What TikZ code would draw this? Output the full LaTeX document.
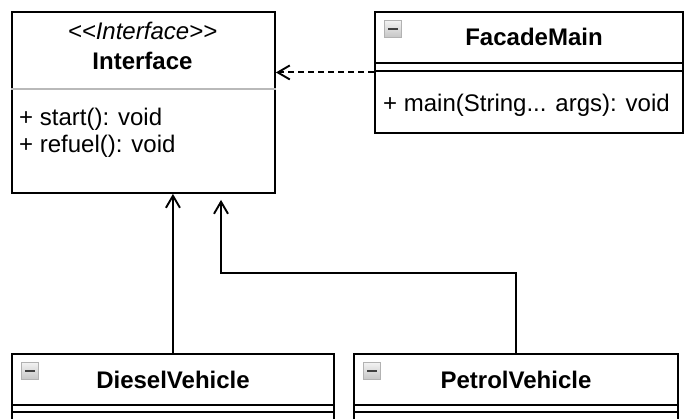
\documentclass[tikz,border=0pt]{standalone}
\usepackage{fontspec}
\setmainfont{Liberation Sans}
\usetikzlibrary{arrows.meta, positioning}

\begin{document}
\begin{tikzpicture}[x=1pt, y=-1pt,
  classbox/.style={rectangle, draw, line width=1.9pt, anchor=north west, inner sep=0pt},
  toggle/.style={rectangle, draw=gray!60, line width=1pt, top color=gray!10, bottom color=gray!45, minimum size=17pt, inner sep=0pt, anchor=north west,
    path picture={\fill[black!75] ([xshift=-5pt,yshift=-1.3pt]path picture bounding box.center) rectangle ([xshift=5pt,yshift=1.3pt]path picture bounding box.center);}},
  title/.style={font=\bfseries\fontsize{24}{27}\selectfont, anchor=base, inner sep=0pt},
  stereo/.style={font=\itshape\fontsize{24}{27}\selectfont, anchor=base, inner sep=0pt},
  member/.style={font=\fontsize{24}{27}\selectfont, anchor=base west, inner sep=0pt},
  sep/.style={line width=1.9pt},
  arr/.style={-{Straight Barb[length=12pt, width=14pt]}, line width=1.9pt},
  dep/.style={arr, dash pattern=on 6pt off 4pt},
  node distance=9pt and 10pt
]
\useasboundingbox (0,0) rectangle (684,419);
\clip (0,0) rectangle (684,419);

% Class boxes
\node[classbox, minimum width=263pt, minimum height=181pt] (iface) at (11,11) {};
\node[classbox, minimum width=308pt, minimum height=121pt] (facade) at (374,11) {};
\node[classbox, minimum width=322pt, minimum height=120pt] (diesel) at (11,353) {};
\node[classbox, minimum width=324pt, minimum height=120pt] (petrol) at (353,353) {};

% Compartment lines
\draw[sep, gray!55] ([yshift=-78pt]iface.north west) -- ([yshift=-78pt]iface.north east);
\draw[sep] ([yshift=-52pt]facade.north west) -- ([yshift=-52pt]facade.north east);
\draw[sep] ([yshift=-60pt]facade.north west) -- ([yshift=-60pt]facade.north east);
\draw[sep] ([yshift=-52pt]diesel.north west) -- ([yshift=-52pt]diesel.north east);
\draw[sep] ([yshift=-59pt]diesel.north west) -- ([yshift=-59pt]diesel.north east);
\draw[sep] ([yshift=-52pt]petrol.north west) -- ([yshift=-52pt]petrol.north east);
\draw[sep] ([yshift=-59pt]petrol.north west) -- ([yshift=-59pt]petrol.north east);

% Collapse toggles
\node[toggle, below right=9pt and 10pt of facade.north west] (facadetoggle) {};
\node[toggle, below right=9pt and 10pt of diesel.north west] (dieseltoggle) {};
\node[toggle, below right=9pt and 10pt of petrol.north west] (petroltoggle) {};

% Texts
\node[stereo] (ifacestereo) at (142.5,40) {<\kern0pt<Interface>\kern0pt>};
\node[title] (ifacename) at (142.5,70) {Interface};
\node[member] (ifacestart) at (19,126) {+ start(): void};
\node[member] (ifacerefuel) at (19,153) {+ refuel(): void};
\node[title] (facadename) at (534,46) {FacadeMain};
\node[member] (facademain) at (383,112) {+ main(String... args): void};
\node[title] (dieselname) at (173,388) {DieselVehicle};
\node[title] (petrolname) at (516,388) {PetrolVehicle};

% Relations
\draw[dep] (facade.west) -- (facade.west -| iface.east);
\draw[arr] (diesel.north) -- (diesel.north |- iface.south);
\coordinate (bend) at (221,273);
\draw[arr] (petrol.north) |- (bend) -- ([yshift=-6pt]bend |- iface.south);

\end{tikzpicture}
\end{document}
